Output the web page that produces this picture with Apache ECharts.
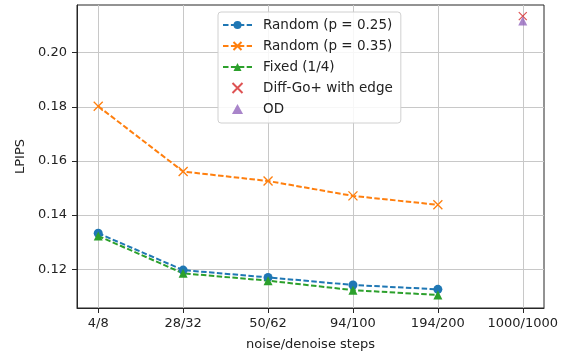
<!DOCTYPE html>
<html>
<head>
<meta charset="utf-8">
<script src="https://cdn.jsdelivr.net/npm/echarts@6/dist/echarts.min.js"></script>
<style>
  html, body { margin: 0; padding: 0; background: #fff; }
  #chart { width: 574px; height: 353px; }
</style>
</head>
<body>
<div id="chart"></div>
<script>
// noise/denoise step settings on the x axis
const steps = ["4/8", "28/32", "50/62", "94/100", "194/200", "1000/1000"];

// LPIPS per setting
const random25 = [0.1333, 0.1197, 0.1170, 0.1142, 0.1126];
const random35 = [0.1802, 0.1561, 0.1526, 0.1471, 0.1438];
const fixed14 = [0.1323, 0.1185, 0.1158, 0.1123, 0.1105];
const diffGoEdge = [0.2135];
const od = [0.2117];

const yTicks = [0.12, 0.14, 0.16, 0.18, 0.20];

const FONT = "DejaVu Sans";
const crossPath = "path://M0,0L10,10M10,0L0,10";
const triPath = "path://M5,0L10,9L0,9Z";

// turn a value list into [x, y] pairs, starting at a given category
const pairs = (vals, start = 0) => vals.map((v, i) => [start + i, v]);

const dashed = [5.5, 2.4];

const chart = echarts.init(document.getElementById("chart"));
chart.setOption({
  animation: false,
  textStyle: { fontFamily: FONT },
  grid: {
    left: 77, right: 30, top: 5, bottom: 45,
    outerBoundsMode: "none",
    show: true, borderColor: "#262626", borderWidth: 1
  },
  legend: {
    orient: "vertical",
    left: 218, top: 12,
    padding: [6, 8, 7, 4],
    itemGap: 7,
    itemWidth: 29, itemHeight: 10,
    backgroundColor: "rgba(255,255,255,0.85)",
    borderColor: "#d0d0d0", borderWidth: 1, borderRadius: 3,
    textStyle: { fontFamily: FONT, fontSize: 13.5, color: "#222", padding: [0, 0, 0, 6] },
    data: ["Random (p = 0.25)", "Random (p = 0.35)", "Fixed (1/4)", "Diff-Go+ with edge", "OD"]
  },
  xAxis: {
    type: "value",
    min: -0.25, max: 5.25,
    name: "noise/denoise steps",
    nameLocation: "middle", nameGap: 30,
    nameTextStyle: { fontFamily: FONT, fontSize: 13, color: "#222" },
    axisLine: { show: true, onZero: false, lineStyle: { color: "#262626" } },
    axisTick: { show: true, length: 5, customValues: [0, 1, 2, 3, 4, 5], lineStyle: { color: "#262626" } },
    axisLabel: {
      customValues: [0, 1, 2, 3, 4, 5],
      formatter: v => steps[Math.round(v)],
      fontFamily: FONT, fontSize: 13, color: "#222", margin: 9
    },
    splitLine: { show: true, lineStyle: { color: "#c8c8c8", width: 1 } }
  },
  yAxis: {
    type: "value",
    min: 0.1057, max: 0.2176,
    name: "LPIPS",
    nameLocation: "middle", nameGap: 48,
    nameTextStyle: { fontFamily: FONT, fontSize: 13, color: "#222" },
    axisLine: { show: true, onZero: false, lineStyle: { color: "#262626" } },
    axisTick: { show: true, length: 5, customValues: yTicks, lineStyle: { color: "#262626" } },
    axisLabel: {
      customValues: yTicks,
      formatter: v => v.toFixed(2),
      fontFamily: FONT, fontSize: 13, color: "#222", margin: 10
    },
    splitLine: { show: true, lineStyle: { color: "#c8c8c8", width: 1 } }
  },
  series: [
    {
      name: "Random (p = 0.25)", type: "line",
      data: pairs(random25),
      symbol: "circle", symbolSize: 9,
      itemStyle: { color: "#1f77b4" },
      lineStyle: { color: "#1f77b4", width: 2, type: dashed }
    },
    {
      name: "Random (p = 0.35)", type: "line",
      data: pairs(random35),
      symbol: crossPath, symbolSize: 9,
      itemStyle: { color: "#ff7f0e", borderColor: "#ff7f0e", borderWidth: 1.3 },
      lineStyle: { color: "#ff7f0e", width: 2, type: dashed }
    },
    {
      name: "Fixed (1/4)", type: "line",
      data: pairs(fixed14),
      symbol: triPath, symbolSize: 9,
      itemStyle: { color: "#2ca02c" },
      lineStyle: { color: "#2ca02c", width: 2, type: dashed }
    },
    {
      name: "Diff-Go+ with edge", type: "scatter",
      data: pairs(diffGoEdge, 5),
      symbol: crossPath, symbolSize: 8,
      itemStyle: { color: "#d62728", borderColor: "#d62728", borderWidth: 1.2 }
    },
    {
      name: "OD", type: "scatter",
      data: pairs(od, 5),
      symbol: triPath, symbolSize: 9,
      itemStyle: { color: "#9467bd" }
    }
  ]
});
</script>
</body>
</html>
